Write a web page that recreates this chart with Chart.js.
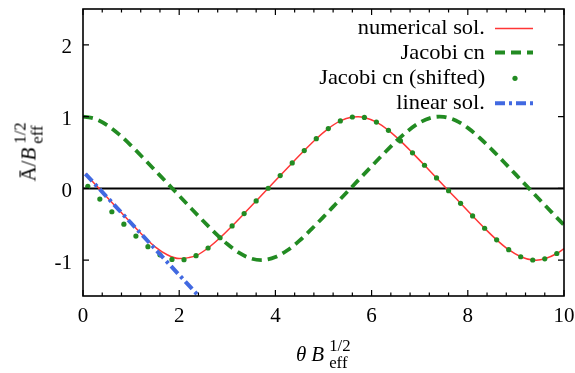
<!DOCTYPE html>
<html><head><meta charset="utf-8">
<script src="https://cdn.jsdelivr.net/npm/chart.js@4/dist/chart.umd.min.js"></script>
<style>
html,body{margin:0;padding:0;background:#fff;}
#wrap{position:relative;width:575px;height:373px;overflow:hidden;background:#fff;}
canvas{position:absolute;left:0;top:0;}
.t{position:absolute;font-family:'Liberation Serif',serif;font-size:21px;color:#000;white-space:nowrap;line-height:1;}
.z{display:inline-block;width:0;position:relative;top:-10px;font-size:0.8em;}
.s{position:relative;top:7px;font-size:0.8em;}
.leg{position:absolute;right:90px;font-family:'Liberation Serif',serif;font-size:21px;color:#000;white-space:nowrap;line-height:1;transform:scaleX(1.07);transform-origin:right center;}
</style></head>
<body><div id="wrap"><canvas id="c" width="575" height="373"></canvas>
<div class="t" id="xt" style="left:296px;top:344px;"><i>θ</i><i style="margin-left:5px">B</i><span class="z" style="margin-left:5px">1/2</span><span class="s">eff</span></div>
<div class="t" id="yt" style="left:-21px;top:141px;width:100px;height:21px;text-align:center;transform:rotate(-90deg);">Ā/<i>B</i><span class="z" style="margin-left:4px">1/2</span><span class="s">eff</span><span style="display:inline-block;width:4px"></span></div>
</div>
<script>
// ---- data ----
const seriesLabels = ['numerical sol.', 'Jacobi cn', 'Jacobi cn (shifted)', 'linear sol.'];
const xTickValues = [0, 2, 4, 6, 8, 10];
const yTickValues = [-1, 0, 1, 2];

const numX = [0.05,0.25,0.5,0.75,1,1.25,1.5,1.75,2,2.2,2.35,2.6,2.85,3.1,3.35,3.6,3.85,4.1,4.35,4.6,4.85,5.1,5.35,5.6,5.72,5.85,6.1,6.35,6.6,6.85,7.1,7.35,7.6,7.85,8.1,8.35,8.6,8.85,9.1,9.35,9.42,9.6,9.85,10];
const numY = [0.203,0.058,-0.123,-0.303,-0.484,-0.66,-0.815,-0.925,-0.978,-0.965,-0.938,-0.831,-0.688,-0.524,-0.351,-0.175,0.002,0.179,0.355,0.527,0.692,0.834,0.940,0.995,1.0,0.989,0.924,0.809,0.662,0.495,0.322,0.145,-0.032,-0.208,-0.384,-0.556,-0.717,-0.855,-0.953,-0.998,-1.0,-0.982,-0.908,-0.840];

const cnX = [0,0.25,0.5,0.75,1,1.25,1.5,1.75,2,2.25,2.5,2.75,3,3.25,3.5,3.708,3.75,4,4.25,4.5,4.75,5,5.25,5.5,5.75,6,6.25,6.5,6.75,7,7.25,7.416,7.5,7.75,8,8.25,8.5,8.75,9,9.25,9.5,9.75,10];
const cnY = [1,0.969,0.882,0.753,0.596,0.426,0.250,0.074,-0.103,-0.280,-0.455,-0.623,-0.776,-0.900,-0.979,-1,-0.999,-0.958,-0.863,-0.728,-0.568,-0.397,-0.221,-0.044,0.133,0.309,0.483,0.650,0.799,0.917,0.986,1,0.997,0.946,0.843,0.702,0.540,0.368,0.191,0.015,-0.162,-0.338,-0.511];

const shiftX = [0.1,0.35,0.6,0.85,1.1,1.35,1.6,1.85,2.1,2.35,2.6,2.85,3.1,3.35,3.6,3.85,4.1,4.35,4.6,4.85,5.1,5.35,5.6,5.85,6.1,6.35,6.6,6.85,7.1,7.35,7.6,7.85,8.1,8.35,8.6,8.85,9.1,9.35,9.6,9.85];
const shiftY = [0.028,-0.149,-0.326,-0.499,-0.665,-0.812,-0.926,-0.990,-0.994,-0.938,-0.831,-0.688,-0.524,-0.351,-0.175,0.002,0.179,0.355,0.527,0.692,0.834,0.940,0.995,0.989,0.924,0.809,0.662,0.495,0.322,0.145,-0.032,-0.208,-0.384,-0.556,-0.717,-0.855,-0.953,-0.998,-0.982,-0.908];

const linX = [0.05, 2.42];
const linY = [0.203, -1.511];

// ---- styles ----
const RED = '#ff3535', GREEN = '#228b22', BLUE = '#4169e1';
const FONT = "'Liberation Serif', serif";
const legendRowY = [28.5, 52.5, 78.3, 103.3];   // legend layout rows
const legendTextTop = [17.4, 41.7, 67.4, 92.4];

const pts = (xs, ys) => xs.map((x, i) => ({x: x, y: ys[i]}));

// HTML legend text
const wrap = document.getElementById('wrap');
seriesLabels.forEach((lab, i) => {
  const d = document.createElement('div');
  d.className = 'leg';
  d.style.top = legendTextTop[i] + 'px';
  d.textContent = lab;
  wrap.appendChild(d);
});

const zeroPad = s => { s.paddingTop = 0; s.paddingBottom = 0; s.paddingLeft = 0; s.paddingRight = 0; };

const framePlugin = {
  id: 'frame',
  beforeDatasetsDraw(chart) {
    const {ctx, chartArea: a, scales: {y}} = chart;
    const y0 = y.getPixelForValue(0);
    ctx.save();
    ctx.strokeStyle = '#000'; ctx.lineWidth = 2;
    ctx.beginPath(); ctx.moveTo(a.left, y0); ctx.lineTo(a.right, y0); ctx.stroke();
    ctx.restore();
  },
  afterDraw(chart) {
    const {ctx, chartArea: a, scales: {x, y}} = chart;
    ctx.save();
    ctx.strokeStyle = '#000';
    ctx.lineWidth = 1.2;
    ctx.beginPath();
    for (let i = 0; i <= 25; i++) {
      const v = i * 0.4;
      const px = x.getPixelForValue(v);
      const major = xTickValues.some(t => Math.abs(t - v) < 1e-6);
      const L = major ? 6 : 3.5;
      ctx.moveTo(px, a.bottom); ctx.lineTo(px, a.bottom - L);
      ctx.moveTo(px, a.top); ctx.lineTo(px, a.top + L);
    }
    yTickValues.forEach(v => {
      const py = y.getPixelForValue(v);
      ctx.moveTo(a.left, py); ctx.lineTo(a.left + 6, py);
      ctx.moveTo(a.right, py); ctx.lineTo(a.right - 6, py);
    });
    ctx.stroke();
    ctx.lineWidth = 1.6;
    ctx.strokeRect(a.left, a.top, a.right - a.left, a.bottom - a.top);

    // legend samples
    const x0 = 495, x1 = 533;
    chart.data.datasets.forEach((ds, i) => {
      const ry = legendRowY[i];
      if (ds.showLine === false) {
        ctx.fillStyle = ds.pointBackgroundColor;
        ctx.beginPath(); ctx.arc((x0 + x1) / 2 + 1, ry, ds.pointRadius, 0, Math.PI * 2); ctx.fill();
      } else {
        ctx.strokeStyle = ds.borderColor;
        ctx.lineWidth = ds.borderWidth;
        ctx.setLineDash(ds.borderDash || []);
        ctx.beginPath(); ctx.moveTo(x0, ry); ctx.lineTo(x1, ry); ctx.stroke();
        ctx.setLineDash([]);
      }
    });
    ctx.restore();
  }
};

new Chart(document.getElementById('c'), {
  type: 'scatter',
  data: {
    datasets: [
      {label: seriesLabels[0], data: pts(numX, numY), showLine: true, borderColor: RED, borderWidth: 1.5,
       pointRadius: 0, cubicInterpolationMode: 'monotone', order: 4},
      {label: seriesLabels[1], data: pts(cnX, cnY), showLine: true, borderColor: GREEN, borderWidth: 3.8,
       borderDash: [10, 6], pointRadius: 0, cubicInterpolationMode: 'monotone', order: 3},
      {label: seriesLabels[2], data: pts(shiftX, shiftY), showLine: false, pointRadius: 2.6,
       pointBackgroundColor: GREEN, pointBorderWidth: 0, borderColor: GREEN, order: 2},
      {label: seriesLabels[3], data: pts(linX, linY), showLine: true, borderColor: BLUE, borderWidth: 4,
       borderDash: [10, 4, 3, 4], pointRadius: 0, order: 1}
    ]
  },
  options: {
    responsive: false,
    animation: false,
    devicePixelRatio: 1,
    layout: {padding: {top: 9, right: 11, left: 0, bottom: 0}},
    plugins: {legend: {display: false}, tooltip: {enabled: false}},
    scales: {
      x: {
        type: 'linear', min: 0, max: 10,
        grid: {display: false, drawTicks: false},
        border: {display: false},
        afterBuildTicks: s => { s.ticks = xTickValues.map(v => ({value: v})); },
        afterFit: s => { s.height = 77; zeroPad(s); },
        ticks: {font: {family: FONT, size: 21}, color: '#000', padding: 8, maxRotation: 0, autoSkip: false}
      },
      y: {
        type: 'linear', min: -1.5, max: 2.5,
        grid: {display: false, drawTicks: false},
        border: {display: false},
        afterBuildTicks: s => { s.ticks = yTickValues.map(v => ({value: v})); },
        afterFit: s => { s.width = 83; zeroPad(s); },
        ticks: {font: {family: FONT, size: 21}, color: '#000', padding: 11, labelOffset: 3}
      }
    }
  },
  plugins: [framePlugin]
});
</script>
</body></html>
